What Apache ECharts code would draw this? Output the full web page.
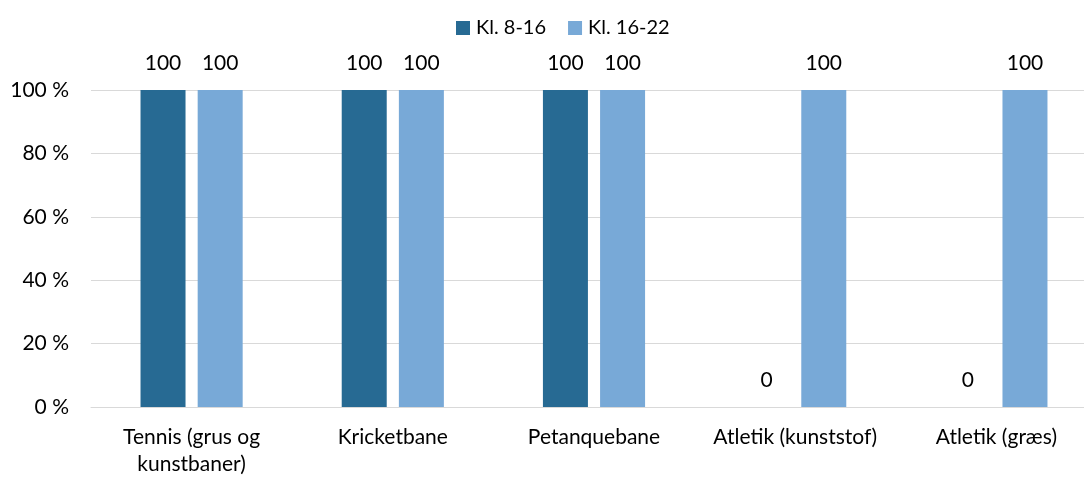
<!DOCTYPE html>
<html><head><meta charset="utf-8">
<script src="https://cdn.jsdelivr.net/npm/echarts@6/dist/echarts.min.js"></script>
<style>html,body{margin:0;padding:0;background:#fff;overflow:hidden;width:1084px;height:478px}#c{width:1100px;height:478px}</style>
</head><body><div id="c"></div>
<script>
const categories = ['Tennis (grus og\nkunstbaner)', 'Kricketbane', 'Petanquebane', 'Atletik (kunststof)', 'Atletik (græs)'];
const seriesNames = ['Kl. 8-16', 'Kl. 16-22'];
const kl816 = [100, 100, 100, 0, 0];
const kl1622 = [100, 100, 100, 100, 100];
const yTicks = [0, 20, 40, 60, 80, 100];

const font = 'Lato, "Open Sans", sans-serif';
const chart = echarts.init(document.getElementById('c'));
chart.setOption({
  animation: false,
  textStyle: { fontFamily: font },
  legend: {
    top: 13, left: 451, itemWidth: 14, itemHeight: 14, itemGap: 22,
    icon: 'rect',
    textStyle: { fontSize: 20, color: '#000', fontFamily: font, padding: [0, 0, 0, 1] },
    data: seriesNames
  },
  grid: { left: 91, top: 90, bottom: 66, width: 1006, containLabel: false },
  xAxis: {
    type: 'category', data: categories,
    axisLine: { lineStyle: { color: '#d9d9d9', width: 1 } },
    axisTick: { show: false },
    axisLabel: { fontSize: 21, color: '#000', margin: 17, lineHeight: 27, interval: 0, fontFamily: font }
  },
  yAxis: {
    type: 'value', min: 0, max: 100, interval: 20,
    axisLine: { show: false }, axisTick: { show: false },
    splitLine: { lineStyle: { color: '#d9d9d9', width: 1 } },
    axisLabel: { fontSize: 21, color: '#000', margin: 22, fontFamily: font,
      formatter: v => yTicks.includes(v) ? v + ' %' : '' }
  },
  series: [
    { name: seriesNames[0], type: 'bar', data: kl816, barWidth: 45, barGap: '27%',
      itemStyle: { color: '#276a93' },
      label: { show: true, position: 'top', distance: 16, fontSize: 21, color: '#000', fontFamily: font } },
    { name: seriesNames[1], type: 'bar', data: kl1622, barWidth: 45,
      itemStyle: { color: '#78a9d7' },
      label: { show: true, position: 'top', distance: 16, fontSize: 21, color: '#000', fontFamily: font } }
  ]
});
</script></body></html>
